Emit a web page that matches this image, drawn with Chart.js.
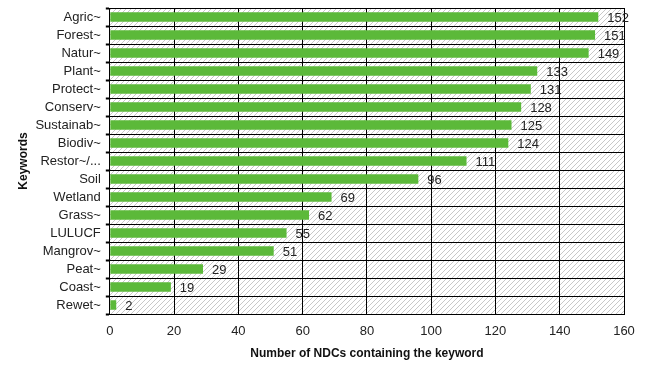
<!DOCTYPE html>
<html>
<head>
<meta charset="utf-8">
<script src="https://cdn.jsdelivr.net/npm/chart.js@4/dist/chart.umd.min.js"></script>
<style>
  html, body { margin: 0; padding: 0; background: #fff; }
  #wrap { width: 650px; height: 371px; position: relative; }
</style>
</head>
<body>
<div id="wrap"><canvas id="myChart" width="650" height="371"></canvas></div>
<script>
const keywords = ['Agric~', 'Forest~', 'Natur~', 'Plant~', 'Protect~', 'Conserv~', 'Sustainab~', 'Biodiv~',
    'Restor~/...', 'Soil', 'Wetland', 'Grass~', 'LULUCF', 'Mangrov~', 'Peat~', 'Coast~', 'Rewet~'];
const ndcCounts = [152, 151, 149, 133, 131, 128, 125, 124, 111, 96, 69, 62, 55, 51, 29, 19, 2];
const xTicks = [0, 20, 40, 60, 80, 100, 120, 140, 160];

const FONT = "'Liberation Sans', sans-serif";

// diagonal hatch for the plot background
function hatch(ctx) {
    const p = document.createElement('canvas');
    p.width = 5; p.height = 5;
    const c = p.getContext('2d');
    c.strokeStyle = '#c8c8c8';
    c.lineWidth = 1;
    c.beginPath();
    c.moveTo(-1, 6); c.lineTo(6, -1);
    c.moveTo(-1, 1); c.lineTo(1, -1);
    c.moveTo(4, 6); c.lineTo(6, 4);
    c.stroke();
    return ctx.createPattern(p, 'repeat');
}

const bgPlugin = {
    id: 'bg',
    beforeDraw(chart) {
        const a = chart.chartArea, ctx = chart.ctx;
        ctx.save();
        ctx.fillStyle = hatch(ctx);
        ctx.fillRect(a.left, a.top, a.right - a.left, a.bottom - a.top);
        ctx.restore();
    }
};

const valuePlugin = {
    id: 'values',
    afterDatasetsDraw(chart) {
        const ctx = chart.ctx;
        const meta = chart.getDatasetMeta(0);
        ctx.save();
        ctx.font = '13px ' + FONT;
        ctx.fillStyle = '#222';
        ctx.textBaseline = 'middle';
        meta.data.forEach(function (bar, i) {
            ctx.fillText(ndcCounts[i], bar.x + 9, bar.y + 1);
        });
        ctx.restore();
    }
};

let myChart = new Chart(document.getElementById('myChart'), {
    type: 'bar',
    data: {
        labels: keywords,
        datasets: [{
            data: ndcCounts,
            backgroundColor: '#5cb93a',
            borderWidth: 0,
            barPercentage: 0.52,
            categoryPercentage: 1
        }]
    },
    options: {
        indexAxis: 'y',
        responsive: false,
        animation: false,
        layout: { padding: { top: 8, right: 26, bottom: 10, left: 16 } },
        plugins: { legend: { display: false }, tooltip: { enabled: false } },
        scales: {
            x: {
                min: 0, max: 160,
                afterBuildTicks(axis) { axis.ticks = xTicks.map(v => ({ value: v })); },
                grid: { color: '#000', lineWidth: 1, drawTicks: false },
                border: { color: '#000' },
                ticks: { color: '#222', font: { family: FONT, size: 13 }, padding: 10 },
                title: {
                    display: true, text: 'Number of NDCs containing the keyword', color: '#111',
                    font: { family: FONT, size: 12, weight: 'bold' }, padding: { top: -3, bottom: 0 }
                }
            },
            y: {
                afterFit(axis) { axis.paddingTop = 0; axis.paddingBottom = 0; },
                grid: { color: '#000', lineWidth: 1, offset: true, tickLength: 4, tickColor: '#000', tickWidth: 2 },
                border: { color: '#000', width: 1 },
                ticks: { color: '#222', font: { family: FONT, size: 13 }, padding: 5, autoSkip: false },
                title: {
                    display: true, text: 'Keywords', color: '#111',
                    font: { family: FONT, size: 12, weight: 'bold' }, padding: { top: 0, bottom: 0 }
                }
            }
        }
    },
    plugins: [bgPlugin, valuePlugin]
});
</script>
</body>
</html>
